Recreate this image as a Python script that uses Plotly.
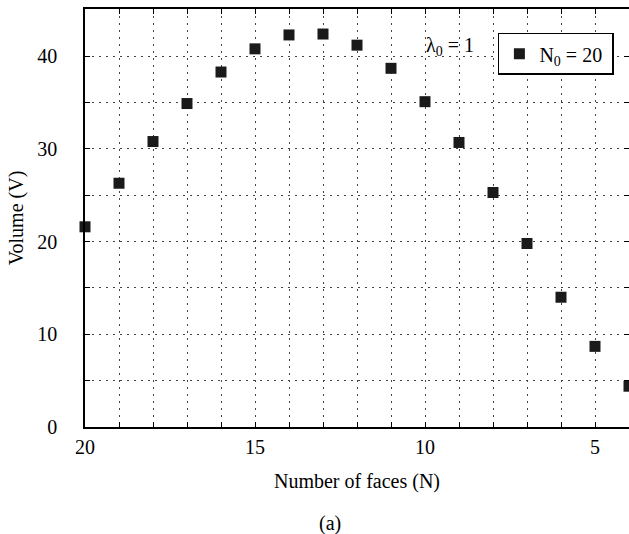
import plotly.graph_objects as go

faces = [20, 19, 18, 17, 16, 15, 14, 13, 12, 11, 10, 9, 8, 7, 6, 5, 4]
volume = [21.6, 26.3, 30.8, 34.9, 38.3, 40.8, 42.3, 42.4, 41.2, 38.7, 35.1, 30.7, 25.3, 19.8, 14.0, 8.7, 4.4]
series_name = "N<sub>0</sub> = 20 "
x_ticks = [20, 15, 10, 5]
y_ticks = [0, 10, 20, 30, 40]

FONT = "Liberation Serif, Times New Roman, serif"
FS = 20
GRID_DASH = "2px,5px"
GRID_COLOR = "#444444"

fig = go.Figure()
fig.add_trace(go.Scatter(
    x=faces, y=volume, mode="markers", name=series_name,
    marker=dict(symbol="square", size=11, color="#1a1a1a"),
    showlegend=True, cliponaxis=False,
))

axis_common = dict(
    showline=True, linecolor="black", linewidth=1.5, mirror="allticks",
    ticks="inside", ticklen=5, tickcolor="black", tickwidth=1,
    showgrid=True, gridcolor=GRID_COLOR, griddash=GRID_DASH, gridwidth=1,
    zeroline=False, tickfont=dict(family=FONT, size=FS, color="black"),
    automargin=False,
)

fig.update_xaxes(
    range=[20, 4], tickvals=x_ticks, ticktext=[str(v) for v in x_ticks],
    minor=dict(dtick=1, tick0=0, ticks="inside", ticklen=5, tickcolor="black",
               showgrid=True, gridcolor=GRID_COLOR, griddash=GRID_DASH, gridwidth=1),
    title=dict(text="Number of faces (N)", font=dict(family=FONT, size=FS, color="black"), standoff=17),
    ticklabelstandoff=1,
    **axis_common,
)
fig.update_yaxes(
    range=[0, 45.1], tickvals=y_ticks, ticktext=[str(v) for v in y_ticks],
    minor=dict(dtick=5, tick0=0, ticks="inside", ticklen=5, tickcolor="black",
               showgrid=True, gridcolor=GRID_COLOR, griddash=GRID_DASH, gridwidth=1),
    title=dict(text="Volume (V)", font=dict(family=FONT, size=FS, color="black"), standoff=8),
    ticklabelstandoff=22,
    **axis_common,
)

fig.add_annotation(x=9.26, y=41.1, text="λ<sub>0</sub> = 1", showarrow=False,
                   xref="x", yref="y", font=dict(family=FONT, size=FS, color="black"))
fig.add_annotation(x=0.45, y=-0.232, xref="paper", yref="paper", text="(a)", showarrow=False,
                   font=dict(family=FONT, size=FS, color="black"), yanchor="middle")

fig.update_layout(
    width=629, height=534,
    margin=dict(l=85, r=0, t=9, b=107),
    plot_bgcolor="white", paper_bgcolor="white",
    legend=dict(x=0.759, y=0.943, xanchor="left", yanchor="top",
                bordercolor="black", borderwidth=1.5, bgcolor="white",
                font=dict(family=FONT, size=FS, color="black"),
                itemwidth=30),
    font=dict(family=FONT, color="black"),
)

fig.write_html("out.html", config={"displayModeBar": False},
               post_script="document.body.style.margin='0';document.body.style.padding='0';")
